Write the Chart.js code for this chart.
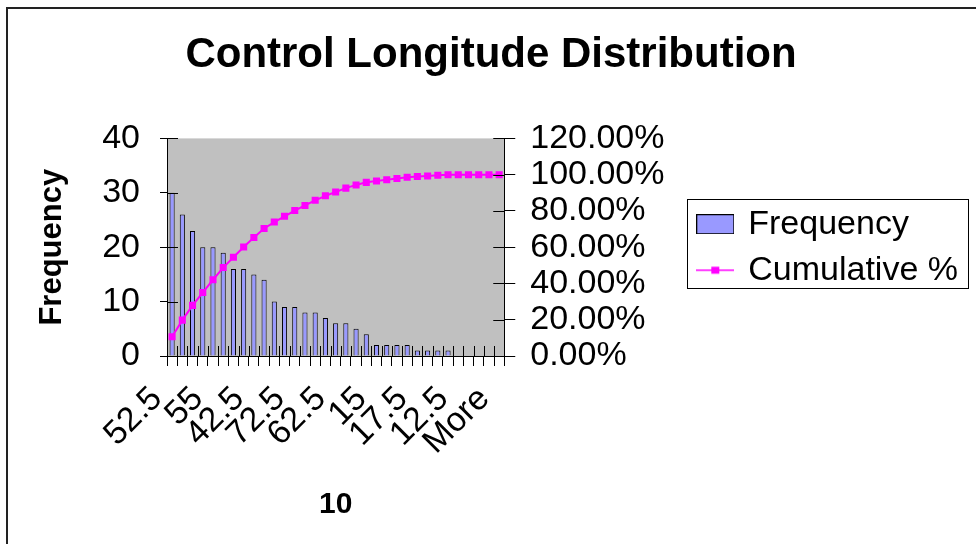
<!DOCTYPE html>
<html>
<head>
<meta charset="utf-8">
<title>Control Longitude Distribution</title>
<script src="https://cdn.jsdelivr.net/npm/chart.js@4/dist/chart.umd.min.js"></script>
<style>
  html, body { margin: 0; padding: 0; background: #fff; }
  #wrap { position: relative; width: 976px; height: 544px; }
</style>
</head>
<body>
<div id="wrap"><canvas id="histChart"></canvas></div>
<script>
// bins as sorted by frequency (pareto order); only every 4th label shows
const categories = [
  "52.5", "50", "47.5", "57.5", "55", "45", "60", "40", "42.5", "65", "70",
  "67.5", "72.5", "37.5", "75", "35", "62.5", "77.5", "32.5", "30", "15",
  "20", "80", "27.5", "17.5", "25", "22.5", "85", "12.5", "82.5", "87.5",
  "90", "More"
];

const frequency = [
  30, 26, 23, 20, 20, 19, 16, 16, 15, 14, 10,
  9, 9, 8, 8, 7, 6, 6, 5, 4, 2,
  2, 2, 2, 1, 1, 1, 1, 0, 0, 0,
  0, 0
];

// cumulative %, as fractions
const cumulative = [
  0.1060, 0.1979, 0.2792, 0.3498, 0.4205, 0.4876, 0.5442, 0.6007, 0.6537, 0.7032, 0.7385,
  0.7703, 0.8021, 0.8304, 0.8587, 0.8834, 0.9046, 0.9258, 0.9435, 0.9576, 0.9647,
  0.9717, 0.9788, 0.9859, 0.9894, 0.9929, 0.9965, 1.0, 1.0, 1.0, 1.0,
  1.0, 1.0
];

const FONT = "'Liberation Sans', Arial, sans-serif";
const BAR_FILL = "#9999FF";
const LINE_COLOR = "#FF00FF";

function makeSwatch(w, h, draw) {
  const c = document.createElement("canvas");
  c.width = w;
  c.height = h;
  draw(c.getContext("2d"));
  return c;
}

const barSwatch = makeSwatch(38, 20, (ctx) => {
  ctx.fillStyle = BAR_FILL;
  ctx.fillRect(0.5, 0.5, 37, 19);
  ctx.strokeStyle = "#000";
  ctx.lineWidth = 1;
  ctx.strokeRect(0.5, 0.5, 37, 19);
});

const lineSwatch = makeSwatch(38, 10, (ctx) => {
  ctx.strokeStyle = LINE_COLOR;
  ctx.lineWidth = 1.5;
  ctx.beginPath();
  ctx.moveTo(0, 5);
  ctx.lineTo(38, 5);
  ctx.stroke();
  ctx.fillStyle = LINE_COLOR;
  ctx.fillRect(15, 1.5, 8, 7);
});

// white page, outer frame, grey plot area
const backdrop = {
  id: "backdrop",
  beforeDraw(chart) {
    const { ctx, chartArea, width, height } = chart;
    ctx.save();
    ctx.fillStyle = "#fff";
    ctx.fillRect(0, 0, width, height);
    ctx.strokeStyle = "#222";
    ctx.lineWidth = 2;
    ctx.beginPath();
    ctx.moveTo(7, height);
    ctx.lineTo(7, 8);
    ctx.lineTo(width, 8);
    ctx.stroke();
    ctx.fillStyle = "#C0C0C0";
    ctx.fillRect(chartArea.left, chartArea.top,
      chartArea.right - chartArea.left, chartArea.bottom - chartArea.top);
    ctx.restore();
  },
};

// excel style ticks that cross the axis line
const crossTicks = {
  id: "crossTicks",
  afterDatasetsDraw(chart) {
    const { ctx, chartArea, scales } = chart;
    ctx.save();
    ctx.strokeStyle = "#000";
    ctx.lineWidth = 1;
    ctx.beginPath();
    for (let i = 0; i <= categories.length; i++) {
      const px = Math.round(scales.x.getPixelForValue(i - 0.5)) + 0.5;
      ctx.moveTo(px, chartArea.bottom);
      ctx.lineTo(px, chartArea.bottom - 10);
    }
    scales.y.ticks.forEach((t, i) => {
      const py = Math.round(scales.y.getPixelForTick(i)) + 0.5;
      ctx.moveTo(chartArea.left, py);
      ctx.lineTo(chartArea.left + 11, py);
    });
    scales.y1.ticks.forEach((t, i) => {
      const py = Math.round(scales.y1.getPixelForTick(i)) + 0.5;
      ctx.moveTo(chartArea.right, py);
      ctx.lineTo(chartArea.right - 11, py);
    });
    ctx.stroke();
    ctx.restore();
  },
};

// box round the legend items
const legendFrame = {
  id: "legendFrame",
  afterDraw(chart) {
    const boxes = chart.legend && chart.legend.legendHitBoxes;
    if (!boxes || !boxes.length) return;
    const first = boxes[0];
    const last = boxes[boxes.length - 1];
    const left = Math.min(...boxes.map((b) => b.left)) - 12;
    const right = Math.max(...boxes.map((b) => b.left + b.width)) + 10;
    const top = first.top + first.height / 2 - 25;
    const bottom = last.top + last.height / 2 + 18;
    const ctx = chart.ctx;
    ctx.save();
    ctx.strokeStyle = "#000";
    ctx.lineWidth = 1;
    ctx.strokeRect(Math.round(left) + 0.5, Math.round(top) + 0.5,
      Math.round(right - left), Math.round(bottom - top));
    ctx.restore();
  },
};

const ctx = document.getElementById("histChart").getContext("2d");

new Chart(ctx, {
  type: "bar",
  data: {
    labels: categories,
    datasets: [
      {
        type: "bar",
        label: "Frequency",
        data: frequency,
        backgroundColor: BAR_FILL,
        borderColor: "#000",
        borderWidth: 1,
        barPercentage: 0.5,
        categoryPercentage: 1,
        yAxisID: "y",
        order: 2,
      },
      {
        type: "line",
        label: "Cumulative %",
        data: cumulative,
        borderColor: LINE_COLOR,
        backgroundColor: LINE_COLOR,
        borderWidth: 2,
        pointStyle: "rect",
        pointRadius: 5,
        pointBorderWidth: 0,
        tension: 0,
        yAxisID: "y1",
        order: 1,
      },
    ],
  },
  options: {
    responsive: true,
    maintainAspectRatio: false,
    animation: false,
    layout: { padding: { left: 14, right: 8, top: 0, bottom: 19 } },
    plugins: {
      tooltip: { enabled: false },
      title: {
        display: true,
        text: "Control Longitude Distribution",
        color: "#000",
        font: { family: FONT, size: 42, weight: "bold" },
        padding: { top: 30, bottom: 58 },
      },
      legend: {
        position: "right",
        fullSize: false,
        maxWidth: 320,
        labels: {
          color: "#000",
          font: { family: FONT, size: 34 },
          usePointStyle: true,
          pointStyleWidth: 32,
          boxHeight: 20,
          padding: 12,
          sort: (a, b) => a.datasetIndex - b.datasetIndex,
          generateLabels(chart) {
            const items = Chart.defaults.plugins.legend.labels.generateLabels(chart);
            items.forEach((item) => {
              item.pointStyle = item.datasetIndex === 0 ? barSwatch : lineSwatch;
            });
            return items;
          },
        },
      },
    },
    scales: {
      x: {
        type: "category",
        offset: true,
        grid: {
          offset: true,
          drawOnChartArea: false,
          tickLength: 10,
          color: "#000",
        },
        border: { color: "#000", width: 1 },
        ticks: {
          autoSkip: false,
          minRotation: 45,
          maxRotation: 45,
          color: "#000",
          font: { family: FONT, size: 34 },
          labelOffset: -15,
          padding: 13,
          callback: (value, index) => (index % 4 === 0 ? categories[index] : ""),
        },
        title: {
          display: true,
          text: "10",
          color: "#000",
          font: { family: FONT, size: 30, weight: "bold" },
          padding: { top: 4, bottom: 2 },
        },
        afterFit: (scale) => {
          scale.height = 169;
        },
      },
      y: {
        position: "left",
        min: 0,
        max: 40,
        ticks: {
          stepSize: 10,
          autoSkip: false,
          color: "#000",
          font: { family: FONT, size: 34 },
          padding: 20,
        },
        grid: { drawOnChartArea: false, tickLength: 7, color: "#000" },
        border: { color: "#000", width: 1 },
        title: {
          display: true,
          text: "Frequency",
          color: "#000",
          font: { family: FONT, size: 31, weight: "bold" },
          padding: { top: 20, bottom: 4 },
        },
        afterFit: (scale) => {
          scale.width = 153;
        },
      },
      y1: {
        position: "right",
        min: 0,
        max: 1.2,
        ticks: {
          stepSize: 0.2,
          autoSkip: false,
          color: "#000",
          font: { family: FONT, size: 34 },
          padding: 15,
          callback: (value) => (value * 100).toFixed(2) + "%",
        },
        grid: { drawOnChartArea: false, tickLength: 11, color: "#000" },
        border: { color: "#000", width: 1 },
        afterFit: (scale) => {
          scale.width = 183;
        },
      },
    },
  },
  plugins: [backdrop, crossTicks, legendFrame],
});
</script>
</body>
</html>
